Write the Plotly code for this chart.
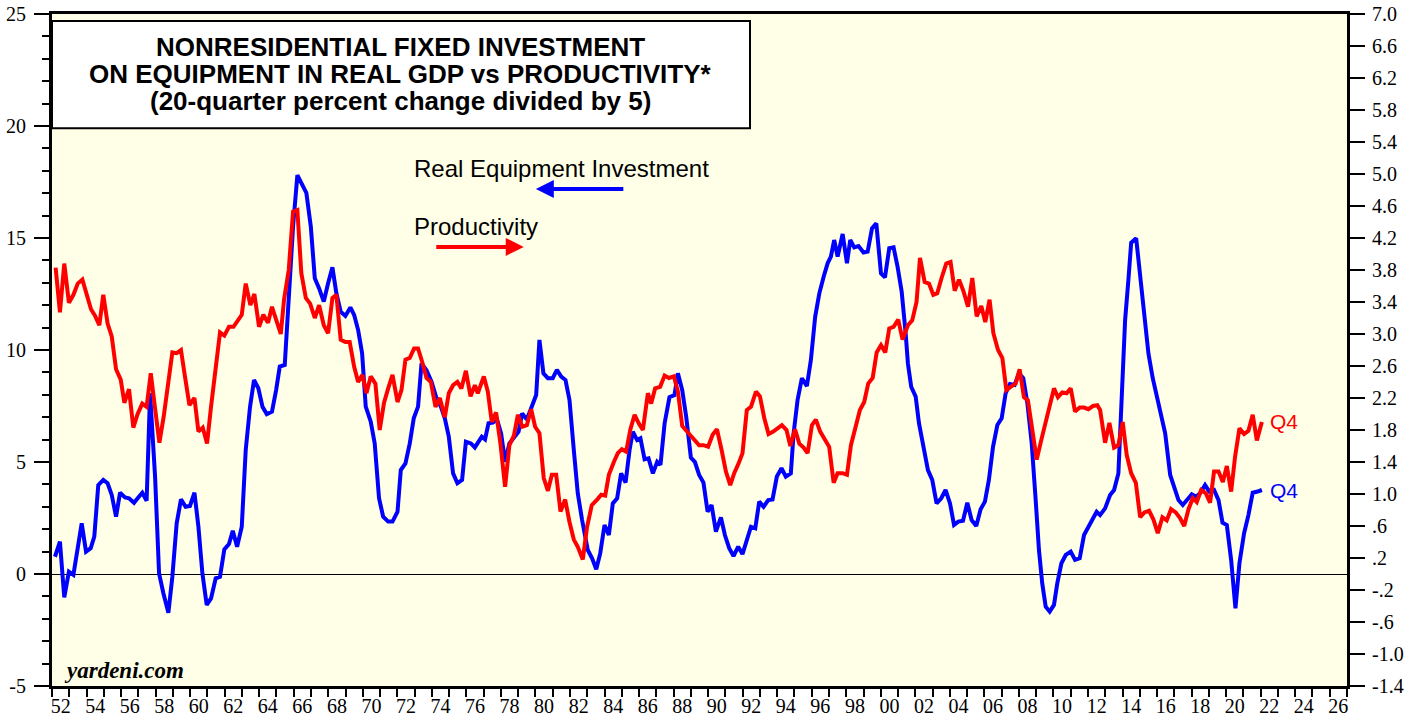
import plotly.graph_objects as go

# ---------------- data ----------------
equip_dates = [
    1952.17, 1952.46, 1952.71, 1952.98, 1953.24, 1953.72, 1953.97, 1954.24, 1954.45, 1954.68,
    1954.97, 1955.22, 1955.46, 1955.71, 1955.94, 1956.23, 1956.46, 1956.75, 1956.96, 1957.23,
    1957.48, 1957.68, 1957.97, 1958.20, 1958.45, 1958.74, 1958.97, 1959.22, 1959.47, 1959.74,
    1959.99, 1960.25, 1960.48, 1960.71, 1960.96, 1961.21, 1961.48, 1961.73, 1961.98, 1962.25,
    1962.47, 1962.72, 1962.99, 1963.22, 1963.47, 1963.70, 1963.95, 1964.19, 1964.44, 1964.74,
    1964.98, 1965.19, 1965.48, 1965.71, 1965.96, 1966.21, 1966.48, 1966.73, 1966.99, 1967.22,
    1967.47, 1967.74, 1967.99, 1968.24, 1968.47, 1968.72, 1968.99, 1969.28, 1969.50, 1969.73,
    1969.96, 1970.17, 1970.46, 1970.69, 1970.94, 1971.18, 1971.47, 1971.72, 1972.01, 1972.20,
    1972.47, 1972.72, 1972.95, 1973.20, 1973.40, 1973.69, 1973.98, 1974.27, 1974.52, 1974.75,
    1974.98, 1975.23, 1975.48, 1975.75, 1975.97, 1976.26, 1976.49, 1976.89, 1977.08, 1977.28,
    1977.53, 1977.78, 1978.01, 1978.24, 1978.49, 1978.75, 1979.02, 1979.23, 1979.50, 1979.75,
    1980.04, 1980.23, 1980.46, 1980.72, 1981.00, 1981.24, 1981.49, 1981.74, 1981.97, 1982.22,
    1982.45, 1982.70, 1983.03, 1983.28, 1983.52, 1983.75, 1984.00, 1984.25, 1984.48, 1984.73,
    1984.96, 1985.22, 1985.45, 1985.64, 1985.89, 1986.08, 1986.32, 1986.55, 1986.80, 1987.05,
    1987.24, 1987.48, 1987.76, 1988.05, 1988.25, 1988.50, 1988.73, 1989.00, 1989.23, 1989.48,
    1989.73, 1989.97, 1990.20, 1990.45, 1990.74, 1990.97, 1991.22, 1991.47, 1991.74, 1991.99,
    1992.24, 1992.48, 1992.73, 1992.96, 1993.21, 1993.48, 1993.73, 1993.98, 1994.25, 1994.50,
    1994.79, 1994.95, 1995.18, 1995.43, 1995.72, 1995.95, 1996.20, 1996.44, 1996.69, 1996.92,
    1997.11, 1997.30, 1997.50, 1997.79, 1998.04, 1998.23, 1998.46, 1998.71, 1999.00, 1999.24,
    1999.49, 1999.74, 2000.01, 2000.24, 2000.49, 2000.74, 2000.97, 2001.21, 2001.44, 2001.57,
    2001.76, 2002.02, 2002.21, 2002.46, 2002.73, 2002.98, 2003.23, 2003.50, 2003.75, 2004.01,
    2004.24, 2004.49, 2004.76, 2005.01, 2005.26, 2005.53, 2005.78, 2006.03, 2006.26, 2006.50,
    2006.75, 2007.00, 2007.23, 2007.48, 2007.75, 2008.00, 2008.25, 2008.49, 2008.74, 2008.97,
    2009.16, 2009.35, 2009.55, 2009.78, 2010.03, 2010.22, 2010.46, 2010.71, 2011.00, 2011.25,
    2011.52, 2011.77, 2012.00, 2012.25, 2012.50, 2012.70, 2012.99, 2013.28, 2013.51, 2013.76,
    2013.96, 2014.15, 2014.34, 2014.50, 2014.79, 2015.02, 2015.25, 2015.50, 2015.75, 2015.98,
    2016.21, 2016.47, 2016.76, 2016.99, 2017.24, 2017.49, 2017.76, 2018.01, 2018.26, 2018.49,
    2018.78, 2019.03, 2019.30, 2019.56, 2019.79, 2020.04, 2020.29, 2020.54, 2020.77, 2021.04,
    2021.29, 2021.54, 2021.82, 2022.07,
]
equip_values = [
    0.77, 1.44, -1.04, 0.10, -0.04, 2.26, 1.00, 1.15, 1.67, 3.97,
    4.20, 4.05, 3.53, 2.56, 3.63, 3.42, 3.38, 3.18, 3.38, 3.63,
    3.27, 8.07, 4.35, 0.03, -0.86, -1.73, -0.12, 2.26, 3.33, 3.00,
    3.04, 3.63, 2.11, 0.03, -1.38, -1.09, -0.19, -0.12, 1.10, 1.34,
    1.93, 1.22, 2.11, 5.54, 7.47, 8.66, 8.29, 7.47, 7.14, 7.25,
    8.21, 9.26, 9.33, 12.23, 15.50, 17.81, 17.41, 17.02, 15.50, 13.20,
    12.75, 12.16, 12.98, 13.69, 12.53, 11.71, 11.52, 11.90, 11.56, 10.89,
    9.85, 7.47, 6.80, 5.83, 3.38, 2.56, 2.34, 2.34, 2.78, 4.64,
    4.94, 5.83, 6.95, 7.47, 9.40, 9.10, 8.59, 7.84, 7.47, 6.95,
    6.13, 4.49, 4.05, 4.20, 5.91, 5.83, 5.65, 6.13, 6.01, 6.73,
    6.76, 6.88, 6.28, 5.01, 5.83, 6.06, 6.35, 7.17, 6.90, 7.40,
    7.99, 10.45, 8.96, 8.74, 8.74, 9.11, 8.81, 8.66, 7.77, 5.54,
    3.60, 2.41, 1.07, 0.70, 0.21, 0.92, 2.19, 1.74, 3.15, 3.38,
    4.49, 4.08, 5.54, 6.35, 5.98, 6.06, 5.12, 5.16, 4.49, 5.01,
    4.87, 6.73, 7.89, 7.99, 8.96, 8.21, 7.02, 5.20, 5.01, 4.42,
    4.08, 2.78, 3.08, 1.89, 2.53, 1.74, 1.15, 0.80, 1.22, 0.89,
    1.52, 2.11, 2.04, 3.23, 3.00, 3.30, 3.33, 4.35, 4.72, 4.35,
    4.49, 6.28, 7.77, 8.74, 8.39, 9.55, 11.49, 12.53, 13.27, 13.87,
    14.17, 14.91, 14.17, 15.18, 13.87, 14.91, 14.58, 14.64, 14.35, 14.39,
    15.43, 15.65, 13.42, 13.24, 14.54, 14.58, 13.72, 12.60, 10.74, 9.40,
    8.36, 7.92, 6.73, 5.68, 4.64, 4.20, 3.15, 3.38, 3.75, 3.15,
    2.19, 2.34, 2.38, 3.18, 2.41, 2.14, 2.89, 3.23, 4.20, 5.68,
    6.65, 6.95, 8.07, 8.48, 8.44, 8.96, 8.74, 7.62, 5.83, 3.30,
    1.07, -0.42, -1.46, -1.68, -1.38, -0.42, 0.48, 0.85, 1.00, 0.63,
    0.70, 1.74, 2.04, 2.41, 2.78, 2.63, 2.93, 3.53, 3.75, 4.49,
    8.07, 11.34, 13.13, 14.79, 14.99, 13.42, 11.64, 9.85, 8.74, 7.92,
    7.10, 6.28, 4.42, 3.90, 3.30, 3.08, 3.30, 3.56, 3.45, 3.60,
    3.97, 3.68, 3.75, 3.30, 2.29, 2.19, 0.63, -1.53, 0.48, 1.82,
    2.63, 3.63, 3.68, 3.75,
]

prod_dates = [
    1952.21, 1952.46, 1952.71, 1952.98, 1953.24, 1953.49, 1953.76, 1954.01, 1954.26, 1954.49,
    1954.74, 1954.97, 1955.22, 1955.46, 1955.71, 1955.98, 1956.19, 1956.46, 1956.71, 1956.96,
    1957.23, 1957.48, 1957.72, 1957.97, 1958.22, 1958.47, 1958.70, 1958.97, 1959.22, 1959.47,
    1959.70, 1959.96, 1960.25, 1960.48, 1960.73, 1960.98, 1961.21, 1961.48, 1961.73, 1961.98,
    1962.25, 1962.51, 1962.76, 1962.99, 1963.22, 1963.49, 1963.72, 1963.99, 1964.24, 1964.51,
    1964.74, 1964.98, 1965.25, 1965.44, 1965.71, 1965.96, 1966.21, 1966.44, 1966.70, 1966.95,
    1967.22, 1967.47, 1967.74, 1967.99, 1968.24, 1968.47, 1968.72, 1968.99, 1969.24, 1969.50,
    1969.73, 1969.98, 1970.21, 1970.46, 1970.73, 1970.98, 1971.23, 1971.47, 1971.72, 1972.01,
    1972.24, 1972.47, 1972.72, 1972.97, 1973.20, 1973.44, 1973.69, 1973.94, 1974.21, 1974.46,
    1974.75, 1974.98, 1975.23, 1975.48, 1975.71, 1975.97, 1976.24, 1976.49, 1976.66, 1977.01,
    1977.24, 1977.47, 1977.72, 1977.97, 1978.24, 1978.49, 1978.75, 1978.98, 1979.23, 1979.50,
    1979.75, 1979.98, 1980.23, 1980.48, 1980.72, 1980.95, 1981.20, 1981.45, 1981.72, 1981.97,
    1982.22, 1982.45, 1982.74, 1982.99, 1983.26, 1983.57, 1983.81, 1984.04, 1984.25, 1984.54,
    1984.77, 1985.00, 1985.25, 1985.50, 1985.74, 1985.99, 1986.22, 1986.51, 1986.70, 1986.93,
    1987.22, 1987.48, 1987.73, 1988.02, 1988.25, 1988.50, 1988.79, 1989.23, 1989.48, 1989.73,
    1990.00, 1990.26, 1990.51, 1990.78, 1991.03, 1991.28, 1991.51, 1991.76, 1991.99, 1992.24,
    1992.48, 1992.77, 1993.00, 1993.25, 1993.50, 1993.77, 1994.02, 1994.27, 1994.54, 1994.76,
    1995.03, 1995.28, 1995.53, 1995.76, 1996.01, 1996.24, 1996.49, 1996.73, 1997.01, 1997.27,
    1997.50, 1997.79, 1998.04, 1998.27, 1998.52, 1998.79, 1999.04, 1999.27, 1999.53, 1999.76,
    2000.01, 2000.26, 2000.49, 2000.74, 2001.01, 2001.26, 2001.57, 2001.82, 2002.07, 2002.27,
    2002.54, 2002.79, 2003.04, 2003.27, 2003.52, 2003.79, 2004.04, 2004.28, 2004.53, 2004.78,
    2005.05, 2005.30, 2005.55, 2005.82, 2006.05, 2006.30, 2006.52, 2006.79, 2007.04, 2007.27,
    2007.52, 2007.81, 2008.04, 2008.29, 2008.52, 2008.78, 2009.03, 2009.30, 2009.55, 2009.80,
    2010.03, 2010.26, 2010.51, 2010.76, 2011.00, 2011.25, 2011.52, 2011.77, 2012.02, 2012.29,
    2012.54, 2012.70, 2012.99, 2013.24, 2013.51, 2013.76, 2014.01, 2014.24, 2014.50, 2014.77,
    2015.02, 2015.27, 2015.54, 2015.79, 2016.04, 2016.31, 2016.56, 2016.81, 2017.08, 2017.33,
    2017.57, 2017.82, 2018.07, 2018.30, 2018.55, 2018.82, 2019.07, 2019.30, 2019.56, 2019.81,
    2020.04, 2020.29, 2020.52, 2020.77, 2021.04, 2021.29, 2021.54, 2021.78, 2022.07,
]
prod_values = [
    3.83, 3.27, 3.88, 3.39, 3.49, 3.63, 3.68, 3.49, 3.31, 3.23,
    3.11, 3.49, 3.13, 2.97, 2.56, 2.43, 2.14, 2.31, 1.83, 2.00,
    2.13, 2.09, 2.51, 2.07, 1.64, 1.97, 2.30, 2.77, 2.76, 2.80,
    2.47, 2.11, 2.20, 1.78, 1.83, 1.63, 2.09, 2.59, 3.02, 2.98,
    3.09, 3.09, 3.16, 3.24, 3.63, 3.36, 3.50, 3.09, 3.24, 3.14,
    3.34, 3.18, 3.00, 3.43, 3.80, 4.53, 4.55, 3.76, 3.45, 3.38,
    3.20, 3.36, 3.11, 3.01, 3.45, 3.49, 2.93, 2.90, 2.90, 2.59,
    2.40, 2.49, 2.26, 2.47, 2.38, 1.80, 2.14, 2.32, 2.49, 2.15,
    2.30, 2.68, 2.70, 2.82, 2.82, 2.65, 2.45, 2.40, 2.09, 2.20,
    1.96, 2.26, 2.36, 2.40, 2.32, 2.54, 2.22, 2.36, 2.26, 2.47,
    2.28, 1.90, 2.02, 1.63, 1.09, 1.61, 1.73, 1.99, 1.84, 1.86,
    2.06, 1.84, 1.76, 1.20, 1.04, 1.24, 1.24, 0.78, 0.93, 0.65,
    0.43, 0.34, 0.18, 0.59, 0.86, 0.93, 0.99, 0.98, 1.24, 1.40,
    1.51, 1.56, 1.53, 1.81, 1.99, 1.88, 1.80, 2.26, 2.13, 2.32,
    2.34, 2.48, 2.45, 2.47, 2.28, 1.85, 1.78, 1.68, 1.61, 1.61,
    1.59, 1.74, 1.81, 1.55, 1.28, 1.11, 1.26, 1.38, 1.51, 2.05,
    2.09, 2.28, 2.22, 1.95, 1.75, 1.78, 1.82, 1.86, 1.80, 1.60,
    1.81, 1.63, 1.58, 1.51, 1.86, 1.93, 1.78, 1.68, 1.59, 1.14,
    1.26, 1.26, 1.24, 1.61, 1.84, 2.05, 2.15, 2.38, 2.45, 2.77,
    2.86, 2.77, 3.07, 3.09, 3.18, 2.93, 3.11, 3.17, 3.40, 3.95,
    3.65, 3.63, 3.49, 3.51, 3.70, 3.88, 3.90, 3.54, 3.68, 3.54,
    3.34, 3.70, 3.22, 3.35, 3.15, 3.43, 3.01, 2.80, 2.70, 2.30,
    2.34, 2.38, 2.56, 2.21, 2.17, 1.80, 1.43, 1.68, 1.90, 2.11,
    2.32, 2.21, 2.27, 2.26, 2.32, 2.03, 2.08, 2.08, 2.06, 2.10,
    2.11, 2.05, 1.64, 1.89, 1.58, 1.61, 1.90, 1.49, 1.26, 1.14,
    0.71, 0.77, 0.79, 0.68, 0.51, 0.71, 0.67, 0.81, 0.77, 0.70,
    0.60, 0.81, 0.95, 0.90, 1.05, 1.01, 0.89, 1.28, 1.28, 1.15,
    1.35, 1.03, 1.47, 1.82, 1.75, 1.79, 1.99, 1.67, 1.90,
]

x_label_years = list(range(1952, 2027, 2))
x_tick_labels = ["52", "54", "56", "58", "60", "62", "64", "66", "68", "70",
                 "72", "74", "76", "78", "80", "82", "84", "86", "88", "90",
                 "92", "94", "96", "98", "00", "02", "04", "06", "08", "10",
                 "12", "14", "16", "18", "20", "22", "24", "26"]
left_tick_vals = [-5, 0, 5, 10, 15, 20, 25]
left_tick_text = ["-5", "0", "5", "10", "15", "20", "25"]
right_tick_vals = [-1.4, -1.0, -0.6, -0.2, 0.2, 0.6, 1.0, 1.4, 1.8, 2.2, 2.6,
                   3.0, 3.4, 3.8, 4.2, 4.6, 5.0, 5.4, 5.8, 6.2, 6.6, 7.0]
right_tick_text = ["-1.4", "-1.0", "-.6", "-.2", ".2", ".6", "1.0", "1.4", "1.8",
                   "2.2", "2.6", "3.0", "3.4", "3.8", "4.2", "4.6", "5.0", "5.4",
                   "5.8", "6.2", "6.6", "7.0"]

title_lines = ["NONRESIDENTIAL FIXED INVESTMENT",
               "ON EQUIPMENT IN REAL GDP vs PRODUCTIVITY*",
               "(20-quarter percent change divided by 5)"]

BLUE = "#0000FF"
RED = "#FF0000"
SERIF = "Liberation Serif"
SANS = "Liberation Sans"

fig = go.Figure()
fig.add_trace(go.Scatter(x=equip_dates, y=equip_values, mode="lines",
                         line=dict(color=BLUE, width=4), yaxis="y",
                         name="Real Equipment Investment", showlegend=False))
fig.add_trace(go.Scatter(x=prod_dates, y=prod_values, mode="lines",
                         line=dict(color=RED, width=4), yaxis="y2",
                         name="Productivity", showlegend=False))

annotations = []
for txt, yp in zip(title_lines, [0.9509, 0.9107, 0.8705]):
    annotations.append(dict(text="<b>" + txt + "</b>", xref="paper", yref="paper",
                            x=0.2693, y=yp, xanchor="center", yanchor="middle",
                            showarrow=False, font=dict(family=SANS, size=26, color="black")))

annotations += [
    dict(text="Real Equipment Investment", xref="paper", yref="paper", x=0.2778, y=0.7708,
         xanchor="left", yanchor="middle", showarrow=False,
         font=dict(family=SANS, size=24, color="black")),
    dict(text="Productivity", xref="paper", yref="paper", x=0.2778, y=0.6845,
         xanchor="left", yanchor="middle", showarrow=False,
         font=dict(family=SANS, size=24, color="black")),
    # blue arrow pointing left
    dict(text="", xref="paper", yref="paper", x=0.3736, y=0.7396, ax=89, ay=0,
         showarrow=True, arrowhead=2, arrowsize=0.9, arrowwidth=4, arrowcolor=BLUE),
    # red arrow pointing right
    dict(text="", xref="paper", yref="paper", x=0.3643, y=0.6533, ax=-89, ay=0,
         showarrow=True, arrowhead=2, arrowsize=0.9, arrowwidth=4, arrowcolor=RED),
    dict(text="Q4", xref="paper", yref="paper", x=0.939, y=0.3943, xanchor="left",
         yanchor="middle", showarrow=False, font=dict(family=SANS, size=21, color=RED)),
    dict(text="Q4", xref="paper", yref="paper", x=0.939, y=0.2902, xanchor="left",
         yanchor="middle", showarrow=False, font=dict(family=SANS, size=21, color=BLUE)),
    dict(text="<b><i>yardeni.com</i></b>", xref="paper", yref="paper", x=0.0075, y=0.0238,
         xanchor="left", yanchor="middle", showarrow=False,
         font=dict(family=SERIF, size=23, color="black")),
]

shapes = [
    dict(type="rect", xref="paper", yref="paper", x0=0, x1=0.539, y0=0.830, y1=0.9896,
         fillcolor="white", line=dict(color="black", width=2), layer="above"),
]

fig.update_layout(
    width=1421, height=717,
    margin=dict(l=52, r=74, t=14, b=31, pad=0, autoexpand=False),
    paper_bgcolor="white",
    plot_bgcolor="#FFFEE6",
    showlegend=False,
    annotations=annotations,
    shapes=shapes,
    xaxis=dict(
        range=[1952, 2027], showgrid=False, zeroline=False, automargin=False,
        showline=True, linecolor="black", linewidth=3, mirror=True,
        tickmode="array", tickvals=[y + 0.5 for y in x_label_years], ticktext=x_tick_labels,
        ticks="", ticklabelstandoff=0,
        tickfont=dict(family=SERIF, size=20, color="black"),
        minor=dict(tickmode="array", tickvals=list(range(1952, 2028)), ticks="outside",
                   ticklen=8, tickwidth=2, tickcolor="black", showgrid=False),
    ),
    yaxis=dict(
        range=[-5, 25], showgrid=False, automargin=False,
        zeroline=True, zerolinecolor="black", zerolinewidth=1,
        showline=True, linecolor="black", linewidth=3,
        tickmode="array", tickvals=left_tick_vals, ticktext=left_tick_text,
        ticks="outside", ticklen=15, tickwidth=1.5, tickcolor="black",
        ticklabelstandoff=4,
        tickfont=dict(family=SERIF, size=20, color="black"),
        minor=dict(dtick=1, tick0=0, ticks="outside", ticklen=7, tickwidth=1.5,
                   tickcolor="black", showgrid=False),
    ),
    yaxis2=dict(
        range=[-1.4, 7.0], overlaying="y", side="right", showgrid=False, zeroline=False,
        automargin=False,
        showline=True, linecolor="black", linewidth=3,
        tickmode="array", tickvals=right_tick_vals, ticktext=right_tick_text,
        ticks="outside", ticklen=15, tickwidth=1.5, tickcolor="black",
        ticklabelstandoff=3,
        tickfont=dict(family=SERIF, size=20, color="black"),
    ),
)

# remove the default page margin so the 1421x717 figure fills the window exactly
fig.write_html("out.html", config={"displayModeBar": False},
               post_script="document.body.style.margin='0';")
